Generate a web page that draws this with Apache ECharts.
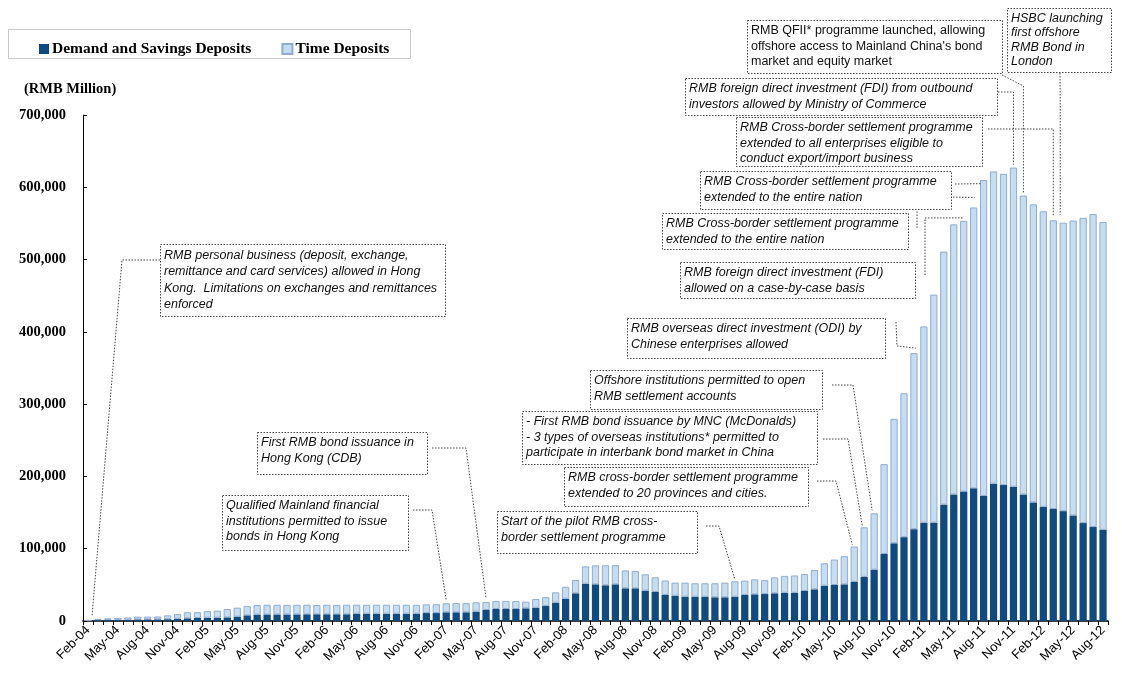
<!DOCTYPE html>
<html>
<head>
<meta charset="utf-8">
<script src="https://cdn.jsdelivr.net/npm/echarts@6/dist/echarts.min.js"></script>
<style>
  html, body { margin: 0; padding: 0; background: #fff; }
  #chart { width: 1122px; height: 677px; }
</style>
</head>
<body>
<div id="chart"></div>
<script>
// months Feb-04 .. Aug-12
var months = [
  'Feb-04','Mar-04','Apr-04','May-04','Jun-04','Jul-04','Aug-04','Sep-04','Oct-04','Nov-04','Dec-04',
  'Jan-05','Feb-05','Mar-05','Apr-05','May-05','Jun-05','Jul-05','Aug-05','Sep-05','Oct-05','Nov-05','Dec-05',
  'Jan-06','Feb-06','Mar-06','Apr-06','May-06','Jun-06','Jul-06','Aug-06','Sep-06','Oct-06','Nov-06','Dec-06',
  'Jan-07','Feb-07','Mar-07','Apr-07','May-07','Jun-07','Jul-07','Aug-07','Sep-07','Oct-07','Nov-07','Dec-07',
  'Jan-08','Feb-08','Mar-08','Apr-08','May-08','Jun-08','Jul-08','Aug-08','Sep-08','Oct-08','Nov-08','Dec-08',
  'Jan-09','Feb-09','Mar-09','Apr-09','May-09','Jun-09','Jul-09','Aug-09','Sep-09','Oct-09','Nov-09','Dec-09',
  'Jan-10','Feb-10','Mar-10','Apr-10','May-10','Jun-10','Jul-10','Aug-10','Sep-10','Oct-10','Nov-10','Dec-10',
  'Jan-11','Feb-11','Mar-11','Apr-11','May-11','Jun-11','Jul-11','Aug-11','Sep-11','Oct-11','Nov-11','Dec-11',
  'Jan-12','Feb-12','Mar-12','Apr-12','May-12','Jun-12','Jul-12','Aug-12'
]

// RMB million
var demandSavings = [
  700,1400,1500,1600,1700,2200,2300,2300,2500,3200,3700,
  4200,4500,4700,5000,6000,7800,8800,9000,9000,9000,9100,9300,
  9300,9300,9300,9300,10100,10100,10100,10100,10100,10100,10100,11000,
  11000,12000,12000,12000,12900,15200,16600,16600,16600,17500,18400,20700,
  25300,30800,38300,51600,50700,49400,50700,45200,45200,41900,40100,36000,
  35000,33600,33600,33600,32800,32800,33600,36000,36900,37300,38300,39000,
  39000,41500,43800,48800,49800,50700,54000,61000,71000,92700,107500,116000,
  127000,136000,136000,161000,175000,179000,183500,173000,190000,188000,185800,175000,
  164000,158000,155000,152000,146000,135500,130000,126000
]
var timeDeposits = [
  200,1100,2200,2800,3200,3800,3800,3900,5300,6400,8400,
  8000,9200,9600,11600,12400,12900,13300,13500,13400,13300,13300,13300,
  12800,13200,13000,13200,12400,12300,12400,12400,12300,12400,12300,12000,
  12200,12500,12800,12700,13000,11000,11100,11200,11100,9200,12000,12300,
  14400,16600,18400,24000,26300,27700,26500,24800,23900,22700,20300,20000,
  18000,19400,18600,18600,19400,20200,21300,19800,20700,19200,22100,23400,
  24000,23500,26700,31000,35200,39000,49000,68600,78000,124300,172100,199000,
  243600,271500,315500,350000,373700,374600,388600,437000,432000,430600,441500,413500,
  412400,408800,399300,399000,408000,422200,433000,426000
]
var yTicks = [0, 100000, 200000, 300000, 400000, 500000, 600000, 700000]

// event call-outs: box in pixels, leader drawn to a month's bar
var notes = [
  { lines: ['RMB personal business (deposit, exchange,', 'remittance and card services) allowed in Hong', 'Kong.  Limitations on exchanges and remittances', 'enforced'],
    box: [160, 244, 285, 72], lh: 16.5, path: [[160, 260], [122, 260]], month: 'Feb-04', dx: 4, dy: -4 },
  { lines: ['First RMB bond issuance in', 'Hong Kong (CDB)'],
    box: [257, 432, 170, 42], path: [[432, 448], [466, 448]], month: 'Jun-07', dy: -4 },
  { lines: ['Qualified Mainland financial', 'institutions permitted to issue', 'bonds in Hong Kong'],
    box: [222, 495, 186, 55], path: [[413, 510], [432, 510]], month: 'Feb-07', dy: -3 },
  { lines: ['Start of the pilot RMB cross-', 'border settlement programme'],
    box: [497, 511, 200, 42], path: [[706, 526], [719, 526]], month: 'Jul-09', dy: -2 },
  { lines: ['RMB cross-border settlement programme', 'extended to 20 provinces and cities.'],
    box: [564, 467, 244, 39], path: [[817, 481], [836, 481]], month: 'Jul-10', dx: -2, dy: -2 },
  { lines: ['- First RMB bond issuance by MNC (McDonalds)', '- 3 types of overseas institutions* permitted to', 'participate in interbank bond market in China'],
    box: [522, 411, 295, 53], path: [[823, 439], [848, 439]], month: 'Aug-10', dx: -2, dy: -2 },
  { lines: ['Offshore institutions permitted to open', 'RMB settlement accounts'],
    box: [590, 370, 232, 39], path: [[832, 385], [853, 385]], month: 'Sep-10', dx: -2, dy: -3 },
  { lines: ['RMB overseas direct investment (ODI) by', 'Chinese enterprises allowed'],
    box: [627, 318, 258, 40], path: [[896, 322], [897, 346]], month: 'Jan-11', dx: 2, dy: -5 },
  { lines: ['RMB foreign direct investment (FDI)', 'allowed on a case-by-case basis'],
    box: [680, 262, 235, 36], path: [[925, 275], [925, 218]], month: 'Jun-11', dy: -3 },
  { lines: ['RMB Cross-border settlement programme', 'extended to the entire nation'],
    box: [662, 213, 246, 36], path: [[917, 228], [917, 210]] },
  { lines: ['RMB Cross-border settlement programme', 'extended to the entire nation'],
    box: [700, 171, 251, 38], path: [[955, 184]], month: 'Aug-11', value: 605000, dx: -3 },
  { lines: [], box: null, path: [[947, 197]], month: 'Jul-11', value: 586000, dx: 1 },
  { lines: ['RMB Cross-border settlement programme', 'extended to all enterprises eligible to', 'conduct export/import business'],
    box: [736, 117, 246, 49], path: [[988, 129], ['a', 129]], month: 'Mar-12', dy: -4 },
  { lines: ['RMB foreign direct investment (FDI) from outbound', 'investors allowed by Ministry of Commerce'],
    box: [685, 78, 312, 37], path: [[998, 92], ['a', 92]], month: 'Nov-11', dy: -3 },
  { lines: ['RMB QFII* programme launched, allowing', 'offshore access to Mainland China\'s bond', 'market and equity market'],
    box: [747, 20, 255, 53], italic: false, path: [[1002, 75], ['a', 86]], month: 'Dec-11', dy: -3 },
  { lines: ['HSBC launching', 'first offshore', 'RMB Bond in', 'London'],
    box: [1007, 8, 104, 64], lh: 14.5, path: [[1060, 73], ['a', 100]], month: 'Apr-12', dx: -3, dy: -8 }
]

var serif = '"Liberation Serif", "DejaVu Serif", serif'
var sans = '"Liberation Sans", Arial, sans-serif'

var chart = echarts.init(document.getElementById('chart'))

var option = {
  animation: false,
  backgroundColor: '#fff',
  title: {
    text: '(RMB Million)',
    left: 19,
    top: 77,
    textStyle: { fontFamily: serif, fontWeight: 'bold', fontSize: 14.5, color: '#000' }
  },
  legend: {
    left: 34,
    top: 36,
    itemWidth: 10,
    itemHeight: 10,
    itemGap: 30,
    icon: 'rect',
    textStyle: { fontFamily: serif, fontWeight: 'bold', fontSize: 15.5, color: '#000', padding: [0, 0, 0, -2] },
    data: ['Demand and Savings Deposits', 'Time Deposits']
  },
  grid: { left: 83, right: 14, top: 115, bottom: 56 },
  xAxis: {
    type: 'category',
    data: months,
    axisLine: { lineStyle: { color: '#000', width: 1.5 } },
    axisTick: { show: true, interval: 0, length: 4, lineStyle: { color: '#000' } },
    axisLabel: {
      interval: 2,
      rotate: 45,
      margin: 7,
      fontFamily: sans,
      fontSize: 13,
      color: '#000'
    }
  },
  yAxis: {
    type: 'value',
    min: 0,
    max: 700000,
    interval: 100000,
    splitLine: { show: false },
    axisLine: { show: true, lineStyle: { color: '#000' } },
    axisTick: { show: true, inside: true, length: 4, lineStyle: { color: '#000' } },
    axisLabel: {
      margin: 17,
      fontFamily: serif,
      fontWeight: 'bold',
      fontSize: 14.5,
      color: '#000',
      formatter: function (v) { return yTicks.indexOf(v) >= 0 ? v.toLocaleString('en-US') : '' }
    }
  },
  series: [
    {
      name: 'Demand and Savings Deposits',
      type: 'bar',
      stack: 'dep',
      barCategoryGap: '27%',
      itemStyle: { color: '#104a7e' },
      data: demandSavings
    },
    {
      name: 'Time Deposits',
      type: 'bar',
      stack: 'dep',
      itemStyle: { color: '#c6dcf1', borderColor: '#8fadd2', borderWidth: 1 },
      data: timeDeposits
    }
  ]
}
chart.setOption(option)

// call-outs
var dash = [1.5, 1.5]
var els = [{
  type: 'rect',
  shape: { x: 8.5, y: 29.5, width: 402, height: 29 },
  style: { fill: null, stroke: '#c8c8c8', lineWidth: 1 },
  z: 1
}]
notes.forEach(function (n) {
  var pts = []
  var end = null
  if (n.month) {
    var i = months.indexOf(n.month)
    var val = n.value != null ? n.value : demandSavings[i] + timeDeposits[i]
    var p = chart.convertToPixel({ xAxisIndex: 0, yAxisIndex: 0 }, [i, val])
    end = [p[0] + (n.dx || 0), p[1] + (n.dy || 0)]
  }
  n.path.forEach(function (q) {
    pts.push([q[0] === 'a' ? end[0] : q[0], q[1]])
  })
  if (end) pts.push(end)
  els.push({
    type: 'polyline',
    shape: { points: pts },
    style: { fill: null, stroke: '#444', lineWidth: 1, lineDash: dash },
    z: 5
  })
  if (n.box) {
    els.push({
      type: 'rect',
      shape: { x: n.box[0] + 0.5, y: n.box[1] + 0.5, width: n.box[2], height: n.box[3] },
      style: { fill: '#fff', stroke: '#444', lineWidth: 1, lineDash: dash },
      z: 6
    })
    els.push({
      type: 'text',
      x: n.box[0] + 4,
      y: n.box[1] + 3,
      style: {
        text: n.lines.join('\n'),
        font: (n.italic === false ? '' : 'italic ') + '12.5px ' + sans,
        lineHeight: n.lh || 15.5,
        fill: '#111'
      },
      z: 7
    })
  }
})
chart.setOption({ graphic: { elements: els } })
</script>
</body>
</html>
